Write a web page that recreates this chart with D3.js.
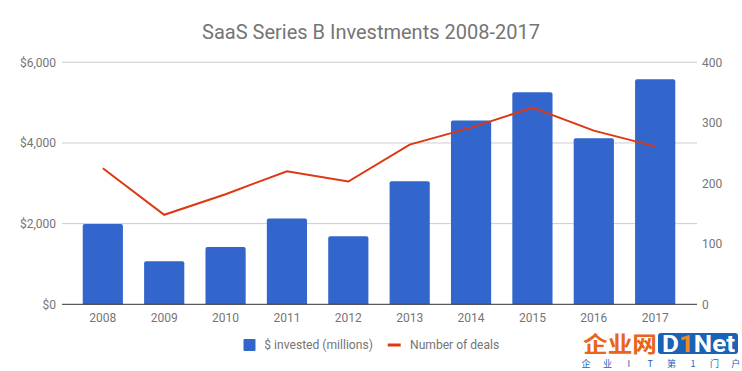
<!DOCTYPE html>
<html><head><meta charset="utf-8">
<script src="https://cdn.jsdelivr.net/npm/d3@7"></script>
<style>body{margin:0;background:#fff}svg{display:block;font-family:Roboto,"Noto Sans",sans-serif}</style>
</head><body><svg id="c" width="742" height="371"></svg>
<script>
const years = ["2008","2009","2010","2011","2012","2013","2014","2015","2016","2017"];
const invested = [1990,1070,1420,2130,1690,3050,4560,5255,4115,5580];
const deals = [225,148,182,220,203,264,292,325,287,261];
const leftTicks = [0,2000,4000,6000];
const rightTicks = [0,100,200,300,400];
const title = "SaaS Series B Investments 2008-2017";
const legendLabels = ["$ invested (millions)","Number of deals"];
const wmSub = ["企","业","I","T","第","1","门","户"];

const svg = d3.select("#c");
const L = 62, R = 697, T = 62.3, B = 304.3;
const x = d3.scaleBand().domain(years).range([72.3,685.7]).paddingInner(0.345).paddingOuter(0.17);
const yL = d3.scaleLinear().domain([0,6000]).range([B,T]);
const yR = d3.scaleLinear().domain([0,400]).range([B,T]);

svg.append("text").attr("x",371).attr("y",38.5).attr("text-anchor","middle")
  .attr("font-size",20).attr("fill","#757575").text(title);

// gridlines
svg.append("g").selectAll("line").data(leftTicks.filter(d=>d>0)).join("line")
  .attr("x1",L).attr("x2",R).attr("y1",d=>yL(d)).attr("y2",d=>yL(d))
  .attr("stroke","#cccccc").attr("stroke-width",1);

const fmt = d => "$" + d3.format(",")(d);
const gl = svg.append("g").attr("transform",`translate(${L-6},0)`)
  .call(d3.axisLeft(yL).tickValues(leftTicks).tickFormat(fmt).tickSize(0).tickPadding(0));
gl.select(".domain").remove();
gl.selectAll("text").attr("font-size",12).attr("fill","#757575").attr("font-family","Roboto");

const gr = svg.append("g").attr("transform",`translate(${R+5},0)`)
  .call(d3.axisRight(yR).tickValues(rightTicks).tickSize(0).tickPadding(0));
gr.select(".domain").remove();
gr.selectAll("text").attr("font-size",12).attr("fill","#757575").attr("font-family","Roboto");

// bars
const bw = x.bandwidth();
svg.append("g").selectAll("path").data(years).join("path")
  .attr("fill","#3366cc")
  .attr("d",(d,i)=>{
    const x0 = x(d), y0 = yL(invested[i]), r = 2;
    return `M${x0},${B}V${y0+r}Q${x0},${y0} ${x0+r},${y0}H${x0+bw-r}Q${x0+bw},${y0} ${x0+bw},${y0+r}V${B}Z`;
  });

// baseline
svg.append("line").attr("x1",L).attr("x2",R).attr("y1",B).attr("y2",B)
  .attr("stroke","#333333").attr("stroke-width",1);

const gx = svg.append("g").attr("transform",`translate(0,${B})`)
  .call(d3.axisBottom(x).tickSize(0).tickPadding(9));
gx.select(".domain").remove();
gx.selectAll("text").attr("font-size",12).attr("fill","#757575").attr("font-family","Roboto");

// line
const line = d3.line().x((d,i)=>x(years[i])+bw/2).y(d=>yR(d));
svg.append("path").datum(deals).attr("d",line).attr("fill","none")
  .attr("stroke","#dc3912").attr("stroke-width",2);

// legend
const lg = svg.append("g");
lg.append("rect").attr("x",243.5).attr("y",339).attr("width",12).attr("height",12).attr("rx",1).attr("fill","#3366cc");
lg.append("text").attr("x",264.3).attr("y",349).attr("font-size",12.1).attr("fill","#757575").text(legendLabels[0]);
lg.append("rect").attr("x",387.7).attr("y",343.5).attr("width",13).attr("height",3).attr("fill","#dc3912");
lg.append("text").attr("x",410).attr("y",349).attr("font-size",12.1).attr("fill","#757575").text(legendLabels[1]);

// watermark
const wm = svg.append("g");
wm.append("text").attr("x",583).attr("y",352).attr("font-size",22).attr("font-weight","bold")
  .attr("fill","#e8651a").attr("font-family","Noto Sans CJK SC").attr("textLength",74)
  .attr("lengthAdjust","spacingAndGlyphs").text("企业网");
wm.append("rect").attr("x",658).attr("y",333).attr("width",80).attr("height",21).attr("rx",3).attr("fill","#1a62b5");
const dn = wm.append("text").attr("x",662).attr("y",352).attr("font-size",24).attr("font-weight","bold")
  .attr("fill","#ffffff").attr("font-family","Roboto").attr("textLength",73).attr("lengthAdjust","spacingAndGlyphs");
dn.append("tspan").text("D");
dn.append("tspan").attr("fill","#f08a1c").text("1");
dn.append("tspan").text("Net");
wm.selectAll("text.sub").data(wmSub).join("text").attr("class","sub")
  .attr("x",(d,i)=>586+i*21.4).attr("y",367).attr("text-anchor","middle")
  .attr("font-size",9).attr("fill","#1a62b5").attr("font-family","Noto Sans CJK SC").text(d=>d);
</script></body></html>
